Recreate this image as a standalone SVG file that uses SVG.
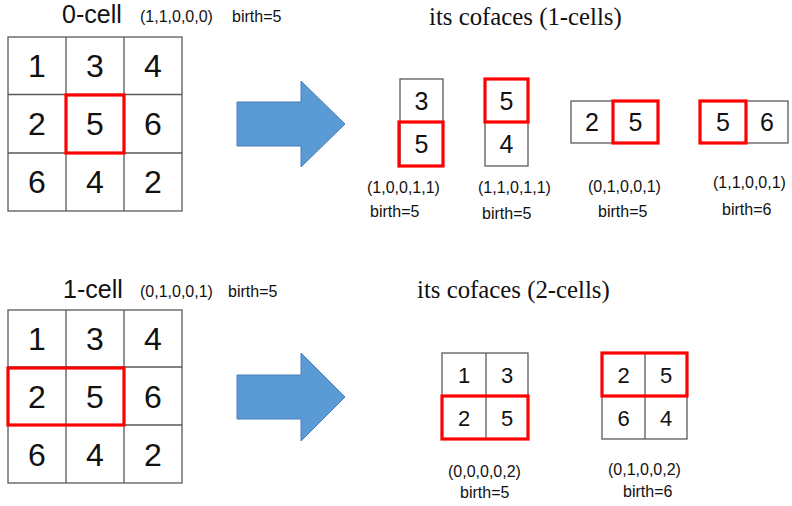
<svg xmlns="http://www.w3.org/2000/svg" width="792" height="506" viewBox="0 0 792 506">
<style>
.g{fill:none;stroke:#5a5a5a;stroke-width:1.3}
.r{fill:none;stroke:#ff0000;stroke-width:3.2}
.d{font-family:"Liberation Sans",Arial,sans-serif;fill:#111;text-anchor:middle}
.big{font-size:32px}
.mid{font-size:25px}
.sm{font-size:22px}
.lab{font-family:"Liberation Sans",Arial,sans-serif;font-size:16px;fill:#111}
.hd{font-family:"Liberation Sans",Arial,sans-serif;font-size:25px;fill:#111}
.ser{font-family:"Liberation Serif","Times New Roman",serif;font-size:24.8px;fill:#111}
.arr{fill:#5b9bd5;stroke:#4a7fb5;stroke-width:1}
</style>
<rect width="792" height="506" fill="#fff"/>

<g id="top-left">
<text class="hd" x="62" y="23">0-cell</text>
<text class="lab" x="140" y="22">(1,1,0,0,0)</text>
<text class="lab" x="232" y="22">birth=5</text>
<rect class="g" x="8" y="37" width="174" height="174"/>
<path class="g" d="M66 37V211M124 37V211M8 94.5H182M8 153H182"/>
<g class="d big">
<text x="37" y="77">1</text><text x="95" y="77">3</text><text x="153" y="77">4</text>
<text x="37" y="135">2</text><text x="95" y="135">5</text><text x="153" y="135">6</text>
<text x="37" y="193">6</text><text x="95" y="193">4</text><text x="153" y="193">2</text>
</g>
<rect class="r" x="66" y="95" width="58" height="58"/>
</g>

<g id="connectors">
<polygon class="arr" points="237,102 301,102 301,81 345,124 301,167 301,146 237,146"/>
<polygon class="arr" points="237,375 301,375 301,353 345,397 301,441 301,419 237,419"/>
</g>

<g id="top-right">
<text class="ser" x="429" y="25">its cofaces (1-cells)</text>
</g>

<g id="coface1a">
<rect class="g" x="400" y="79" width="43" height="87"/>
<path class="g" d="M400 122H443"/>
<text class="d mid" x="421.5" y="109.5">3</text>
<text class="d mid" x="421.5" y="153">5</text>
<rect class="r" x="399" y="122" width="44" height="44"/>
<text class="lab" x="367" y="193">(1,0,0,1,1)</text>
<text class="lab" x="370" y="217">birth=5</text>
</g>

<g id="coface1b">
<rect class="g" x="485" y="79" width="43" height="87"/>
<path class="g" d="M485 122H528"/>
<text class="d mid" x="506.5" y="109.5">5</text>
<text class="d mid" x="506.5" y="153">4</text>
<rect class="r" x="485" y="79" width="43" height="43"/>
<text class="lab" x="478" y="193">(1,1,0,1,1)</text>
<text class="lab" x="482" y="219">birth=5</text>
</g>

<g id="coface1c">
<rect class="g" x="571" y="101" width="87" height="42"/>
<path class="g" d="M613 101V143"/>
<text class="d mid" x="592" y="131">2</text>
<text class="d mid" x="635.5" y="131">5</text>
<rect class="r" x="613" y="101" width="45" height="42"/>
<text class="lab" x="588" y="192">(0,1,0,0,1)</text>
<text class="lab" x="598" y="217">birth=5</text>
</g>

<g id="coface1d">
<rect class="g" x="700" y="101" width="88" height="42"/>
<path class="g" d="M746 101V143"/>
<text class="d mid" x="723" y="131">5</text>
<text class="d mid" x="767" y="131">6</text>
<rect class="r" x="700" y="101" width="46" height="42"/>
<text class="lab" x="713" y="188">(1,1,0,0,1)</text>
<text class="lab" x="722" y="215">birth=6</text>
</g>

<g id="bottom-left">
<text class="hd" x="63" y="298">1-cell</text>
<text class="lab" x="140" y="297">(0,1,0,0,1)</text>
<text class="lab" x="228" y="297">birth=5</text>
<rect class="g" x="8" y="310" width="174" height="173"/>
<path class="g" d="M66 310V483M124 310V483M8 367H182M8 425H182"/>
<g class="d big">
<text x="37" y="350">1</text><text x="95" y="350">3</text><text x="153" y="350">4</text>
<text x="37" y="408">2</text><text x="95" y="408">5</text><text x="153" y="408">6</text>
<text x="37" y="466">6</text><text x="95" y="466">4</text><text x="153" y="466">2</text>
</g>
<rect class="r" x="8" y="368" width="116" height="57"/>
</g>

<g id="bottom-right">
<text class="ser" x="417" y="298">its cofaces (2-cells)</text>
</g>

<g id="coface2a">
<rect class="g" x="442" y="353" width="86" height="86"/>
<path class="g" d="M486 353V439M442 396H528"/>
<text class="d sm" x="464" y="382.5">1</text>
<text class="d sm" x="507" y="382.5">3</text>
<text class="d sm" x="464" y="425.5">2</text>
<text class="d sm" x="507" y="425.5">5</text>
<rect class="r" x="442" y="396" width="86" height="43"/>
<text class="lab" x="448" y="477">(0,0,0,0,2)</text>
<text class="lab" x="460" y="498">birth=5</text>
</g>

<g id="coface2b">
<rect class="g" x="602" y="353" width="85" height="86"/>
<path class="g" d="M645 353V439M602 396H687"/>
<text class="d sm" x="623.5" y="382.5">2</text>
<text class="d sm" x="666" y="382.5">5</text>
<text class="d sm" x="623.5" y="425.5">6</text>
<text class="d sm" x="666" y="425.5">4</text>
<rect class="r" x="602" y="353" width="85" height="43"/>
<text class="lab" x="608" y="475">(0,1,0,0,2)</text>
<text class="lab" x="623" y="497">birth=6</text>
</g>
</svg>
